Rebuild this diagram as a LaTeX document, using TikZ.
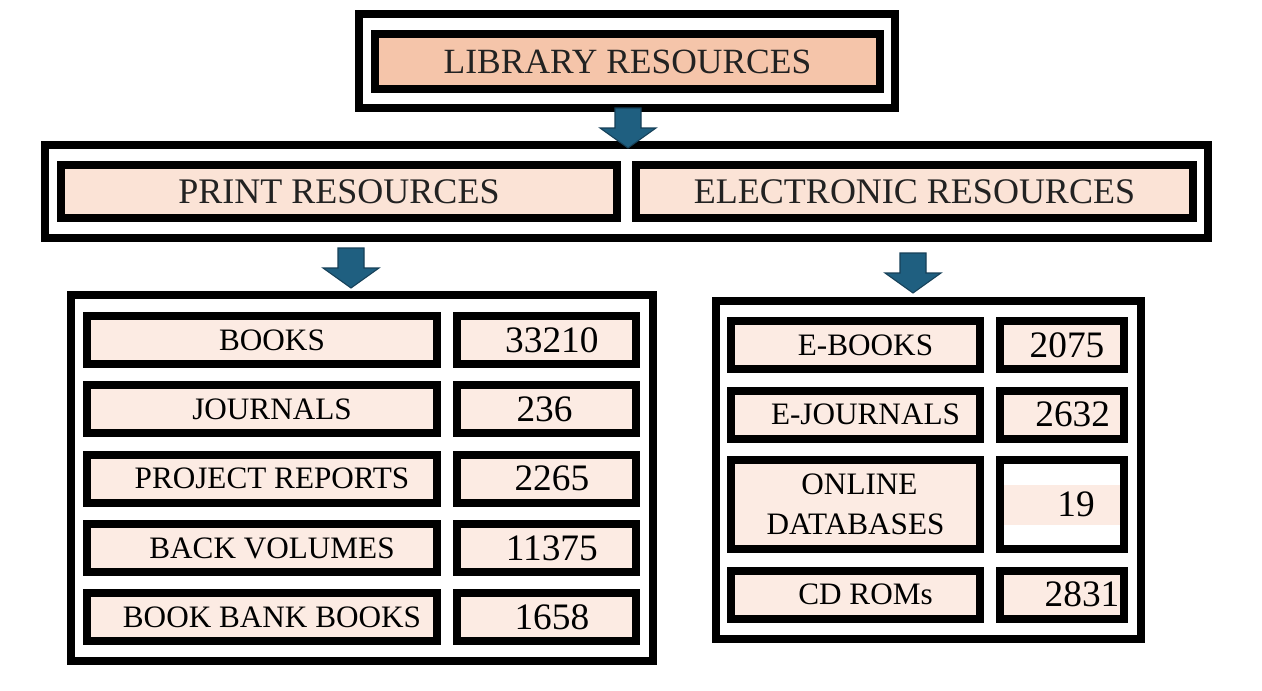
\documentclass[tikz,border=0pt]{standalone}
\usepackage{fontspec}
\setmainfont{Liberation Serif}

\definecolor{topfill}{RGB}{245,197,170}
\definecolor{midfill}{RGB}{251,227,214}
\definecolor{rowfill}{RGB}{252,235,227}
\definecolor{arrowblue}{RGB}{31,95,128}
\definecolor{arrowedge}{RGB}{22,64,88}
\definecolor{inkgray}{RGB}{34,34,34}

\tikzset{
  sz/.style 2 args={minimum width=#1*0.75pt, minimum height=#2*0.75pt},
  frame/.style={draw=black, line width=6pt, rectangle, inner sep=0pt},
  headbox/.style={frame, fill=midfill, text=inkgray, font=\fontsize{27}{30}\selectfont},
  rowbox/.style={frame, fill=rowfill, align=center, font=\fontsize{23.4}{30}\selectfont},
  numbox/.style={frame, fill=rowfill, font=\fontsize{28}{30}\selectfont},
  nudge/.style={execute at begin node={\hspace*{#1}}},
  blockarrow/.style={fill=arrowblue, draw=arrowedge, line width=0.8pt},
}

% block arrow pointing down, #1 = tip
\newcommand{\downarr}[1]{\draw[blockarrow] (#1) -- ++(28,-20) -- ++(-15,0) -- ++(0,-20)
  -- ++(-26,0) -- ++(0,20) -- ++(-15,0) -- cycle;}

\begin{document}
\begin{tikzpicture}[x=0.75pt, y=-0.75pt]
\fill[white] (0,0) rectangle (1262,690);

% top
\node[frame, sz={536}{94}] (libout) at (627,61) {};
\node[frame, fill=topfill, text=inkgray, font=\fontsize{26.6}{30}\selectfont, sz={505}{55}] (lib) at (627.5,61.5) {LIBRARY RESOURCES};

% second level
\node[frame, sz={1163}{93}] (resout) at (626.5,191.5) {};
\node[headbox, sz={556}{53}] (print) at (339,191.5) {PRINT RESOURCES};
\node[headbox, sz={557}{53}] (elec) at (914.5,191.5) {ELECTRONIC RESOURCES};

% print resources
\node[frame, sz={582}{366}] (printout) at (362,478) {};
\foreach \y/\name/\lbl/\num/\d in {340/books/BOOKS/33210/8pt, 409.3/journals/JOURNALS/236/-3pt,
    478.6/reports/PROJECT REPORTS/2265/8pt, 547.9/backvol/BACK VOLUMES/11375/8pt,
    617.2/bankbooks/BOOK BANK BOOKS/1658/8pt} {
  \node[rowbox, nudge=15pt, sz={350}{48}] (\name) at (262,\y) {\lbl};
  \node[numbox, nudge=\d, sz={179}{48}] (\name-n) at (546.5,\y) {\num};
}

% electronic resources
\node[frame, sz={425}{338}] (elecout) at (928.5,470) {};
\foreach \y/\name/\lbl/\num/\d in {345/ebooks/E-BOOKS/2075/7.5pt, 414.5/ejournals/E-JOURNALS/2632/16pt,
    594.5/cdroms/CD ROMs/2831/30pt} {
  \node[rowbox, nudge=15pt, sz={249}{48}] (\name) at (855.5,\y) {\lbl};
  \node[numbox, nudge=\d, sz={124}{48}] (\name-n) at (1062,\y) {\num};
}
\node[rowbox, sz={249}{89}] (onlinedb) at (855.5,504.5) {\hspace*{6pt}ONLINE\\DATABASES};
\node[numbox, nudge=21pt, fill=white, sz={124}{89}, path picture={
    \fill[rowfill] ([yshift=-15pt]path picture bounding box.west)
      rectangle ([yshift=15pt]path picture bounding box.east);}] (onlinedb-n) at (1062,504.5) {19};

% arrows
\coordinate (tiplib) at (628,148);
\coordinate (tipprint) at (351,288);
\coordinate (tipelec) at (913,293);
\downarr{tiplib}
\downarr{tipprint}
\downarr{tipelec}
\end{tikzpicture}
\end{document}
